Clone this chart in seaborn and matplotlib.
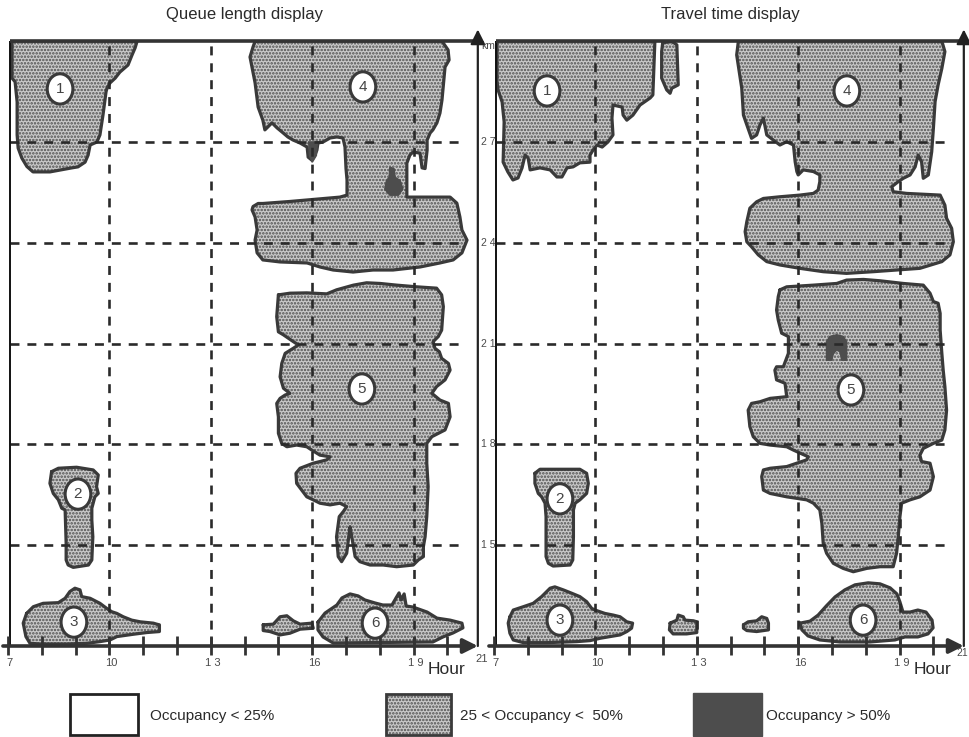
import matplotlib
matplotlib.use("Agg")
import matplotlib.pyplot as plt
from matplotlib.patches import Polygon, Ellipse, Rectangle
import seaborn as sns

# ---------------------------------------------------------------------------
# Occupancy regions, outlines given as (hour, km) vertices
# ---------------------------------------------------------------------------
queue_r1 = [(7.12, 30.0), (10.82, 30.0), (10.76, 29.8), (10.67, 29.59), (10.55, 29.29), (10.31, 29.08),
            (10.17, 28.9), (10.02, 28.76), (9.93, 28.61), (9.90, 28.49), (9.81, 27.8), (9.72, 27.21),
            (9.63, 27.0), (9.43, 26.91), (9.37, 26.61), (9.28, 26.4), (9.07, 26.26), (8.89, 26.23),
            (8.24, 26.11), (7.74, 26.11), (7.56, 26.27), (7.41, 26.52), (7.30, 26.82), (7.27, 27.21),
            (7.27, 28.19), (7.21, 28.79), (7.12, 28.9)]
queue_r2 = [(8.29, 17.19), (8.49, 17.29), (9.03, 17.32), (9.52, 17.24), (9.67, 17.09), (9.62, 16.74),
            (9.67, 16.54), (9.57, 16.44), (9.48, 16.10), (9.48, 15.75), (9.51, 15.25), (9.48, 14.56),
            (9.38, 14.41), (8.93, 14.34), (8.78, 14.41), (8.72, 14.56), (8.72, 15.06), (8.69, 16.05),
            (8.59, 16.10), (8.49, 16.35), (8.34, 16.54), (8.24, 16.84)]
queue_r3 = [(7.55, 12.97), (7.75, 13.17), (8.04, 13.27), (8.49, 13.29), (8.69, 13.42), (8.83, 13.62),
            (8.98, 13.72), (9.13, 13.67), (9.18, 13.47), (9.43, 13.42), (9.72, 13.27), (9.92, 13.12),
            (10.07, 13.02), (10.22, 12.97), (10.41, 12.87), (10.66, 12.77), (10.91, 12.72), (11.30, 12.68),
            (11.40, 12.65), (11.48, 12.63), (11.48, 12.43), (11.10, 12.40), (10.71, 12.35), (10.22, 12.28),
            (10.02, 12.18), (9.72, 12.13), (9.33, 12.08), (8.74, 12.06), (7.95, 12.06), (7.65, 12.08),
            (7.53, 12.28), (7.45, 12.68)]
queue_r4 = [(14.31, 30.0), (19.84, 30.0), (20.02, 29.74), (20.05, 29.44), (19.93, 29.23), (19.84, 28.25),
            (19.78, 27.86), (19.69, 27.57), (19.57, 27.36), (19.49, 27.27), (19.40, 27.06), (19.40, 26.76),
            (19.34, 26.21), (19.25, 26.23), (19.19, 26.67), (18.98, 26.70), (18.89, 26.61), (18.80, 26.37),
            (18.80, 25.48), (18.80, 25.36), (20.08, 25.36), (20.28, 25.18), (20.37, 24.77), (20.43, 24.38),
            (20.58, 24.08), (20.43, 23.70), (20.17, 23.49), (19.78, 23.40), (19.19, 23.28), (18.39, 23.19),
            (17.80, 23.19), (17.21, 23.13), (16.62, 23.19), (16.23, 23.28), (15.85, 23.40), (15.05, 23.43),
            (14.54, 23.49), (14.37, 23.70), (14.31, 24.08), (14.37, 24.38), (14.31, 24.77), (14.22, 24.98),
            (14.25, 25.08), (14.40, 25.17), (14.54, 25.17), (15.34, 25.23), (16.14, 25.30), (16.82, 25.36),
            (17.03, 25.42), (17.03, 25.87), (17.00, 26.21), (16.97, 26.85), (16.91, 27.12), (16.73, 27.15),
            (16.53, 27.12), (16.32, 27.00), (16.17, 26.97), (16.14, 26.76), (16.08, 26.61), (15.99, 26.46),
            (15.88, 26.55), (15.85, 26.85), (15.64, 26.97), (15.43, 27.06), (15.28, 27.15), (15.14, 27.27),
            (14.96, 27.42), (14.81, 27.57), (14.60, 27.36), (14.54, 27.65), (14.40, 28.04), (14.31, 28.76),
            (14.16, 29.53), (14.25, 29.83)]
queue_r5 = [(15.00, 22.45), (15.34, 22.50), (15.84, 22.51), (16.43, 22.48), (16.72, 22.60), (17.22, 22.74),
            (17.61, 22.81), (18.01, 22.79), (18.50, 22.74), (19.09, 22.69), (19.68, 22.65), (19.83, 22.45),
            (19.88, 22.10), (19.83, 21.40), (19.73, 21.21), (19.58, 21.06), (19.63, 20.86), (19.76, 20.76),
            (19.83, 20.56), (20.03, 20.41), (20.08, 20.21), (19.93, 19.92), (19.68, 19.72), (19.54, 19.52),
            (19.78, 19.32), (20.03, 19.22), (20.08, 18.82), (19.93, 18.43), (19.54, 18.23), (19.39, 18.03),
            (19.39, 17.44), (19.43, 16.74), (19.39, 15.85), (19.34, 15.25), (19.29, 14.96), (19.29, 14.66),
            (19.14, 14.56), (18.99, 14.41), (18.50, 14.36), (18.10, 14.41), (17.71, 14.41), (17.41, 14.51),
            (17.27, 14.66), (17.17, 15.25), (17.12, 15.55), (17.02, 14.76), (16.87, 14.51), (16.77, 14.66),
            (16.72, 15.25), (16.80, 15.85), (16.92, 16.00), (17.02, 16.15), (16.82, 16.25), (16.53, 16.20),
            (16.23, 16.25), (16.03, 16.35), (15.84, 16.44), (15.69, 16.64), (15.54, 16.84), (15.52, 17.14),
            (15.64, 17.29), (16.03, 17.44), (16.43, 17.54), (16.53, 17.63), (16.23, 17.68), (15.99, 17.83),
            (15.84, 17.93), (15.54, 17.98), (15.25, 17.93), (15.10, 18.03), (15.00, 18.33), (15.00, 18.82),
            (14.95, 19.22), (15.05, 19.37), (15.20, 19.47), (15.34, 19.52), (15.15, 19.67), (15.05, 20.01),
            (15.10, 20.41), (15.20, 20.71), (15.44, 20.86), (15.59, 20.96), (15.44, 21.06), (15.15, 21.26),
            (15.00, 21.35), (14.95, 21.80)]
queue_r6 = [(16.17, 12.71), (16.38, 12.98), (16.73, 13.22), (16.88, 13.43), (17.12, 13.55), (17.36, 13.49),
            (17.56, 13.37), (17.86, 13.28), (18.09, 13.22), (18.36, 13.22), (18.48, 13.43), (18.57, 13.58),
            (18.63, 13.37), (18.72, 13.55), (18.78, 13.19), (18.98, 13.16), (19.40, 13.01), (19.69, 12.83),
            (20.08, 12.77), (20.43, 12.68), (20.46, 12.54), (20.17, 12.39), (19.87, 12.27), (19.57, 12.12),
            (16.62, 12.09), (16.32, 12.27), (16.17, 12.48)]
queue_r7 = [(14.55, 12.63), (14.85, 12.65), (15.05, 12.87), (15.25, 12.90), (15.44, 12.75), (15.64, 12.65),
            (15.99, 12.68), (16.03, 12.53), (15.64, 12.50), (15.34, 12.38), (15.05, 12.33), (14.75, 12.43),
            (14.55, 12.46)]
queue_high1 = [(18.30, 26.25), (18.42, 26.20), (18.45, 25.95), (18.60, 25.85), (18.68, 25.60), (18.55, 25.42),
               (18.30, 25.42), (18.15, 25.60), (18.20, 25.85), (18.28, 25.95)]
queue_high2 = [(15.90, 27.00), (16.15, 27.00), (16.12, 26.60), (16.00, 26.40), (15.92, 26.60)]

travel_r1 = [(7.09, 30.0), (11.76, 30.0), (11.70, 28.40), (11.62, 28.31), (11.32, 28.10), (11.11, 27.80),
             (10.93, 27.65), (10.82, 27.80), (10.79, 28.04), (10.52, 28.10), (10.49, 27.71), (10.52, 27.21),
             (10.37, 27.0), (10.20, 26.85), (10.05, 26.91), (9.93, 26.76), (9.84, 26.61), (9.84, 26.40),
             (9.54, 26.38), (9.34, 26.26), (9.16, 26.23), (9.01, 25.96), (8.86, 25.96), (8.66, 26.17),
             (8.36, 26.23), (8.07, 26.17), (8.01, 26.52), (7.92, 26.61), (7.83, 26.23), (7.71, 25.93),
             (7.56, 25.87), (7.41, 26.11), (7.27, 26.40), (7.30, 27.60), (7.24, 28.19), (7.12, 28.55),
             (7.09, 28.79)]
travel_r1b = [(11.99, 29.95), (12.26, 30.0), (12.41, 29.89), (12.45, 28.70), (12.26, 28.60), (12.21, 28.45),
              (12.11, 28.55), (11.96, 28.90), (11.96, 29.69)]
travel_r2 = [(8.21, 17.14), (8.36, 17.26), (9.54, 17.26), (9.74, 17.14), (9.79, 16.84), (9.74, 16.54),
             (9.54, 16.35), (9.40, 16.25), (9.35, 16.05), (9.35, 15.25), (9.33, 14.56), (9.25, 14.41),
             (8.75, 14.38), (8.61, 14.46), (8.54, 14.66), (8.54, 15.85), (8.51, 16.25), (8.41, 16.44),
             (8.31, 16.54), (8.21, 16.84)]
travel_r3 = [(7.47, 12.87), (7.57, 13.07), (7.87, 13.17), (8.16, 13.27), (8.41, 13.47), (8.66, 13.72),
             (8.80, 13.76), (9.05, 13.67), (9.30, 13.57), (9.54, 13.47), (9.74, 13.32), (9.89, 13.12),
             (9.99, 13.07), (10.28, 12.97), (10.53, 12.92), (10.73, 12.87), (10.93, 12.72), (11.10, 12.68),
             (11.07, 12.53), (10.93, 12.43), (10.73, 12.33), (10.43, 12.28), (10.14, 12.23), (9.84, 12.16),
             (9.45, 12.13), (8.56, 12.10), (7.87, 12.10), (7.57, 12.18), (7.47, 12.38), (7.42, 12.68)]
travel_r4 = [(14.23, 30.0), (20.25, 30.0), (20.34, 29.69), (20.25, 29.19), (20.14, 28.70), (20.05, 28.20),
             (20.00, 27.41), (19.95, 26.71), (19.85, 26.02), (19.70, 25.92), (19.65, 26.41), (19.55, 26.61),
             (19.46, 26.26), (19.31, 26.02), (19.11, 25.92), (18.96, 25.82), (18.77, 25.67), (18.81, 25.52),
             (19.21, 25.47), (20.20, 25.42), (20.34, 25.12), (20.39, 24.73), (20.54, 24.43), (20.59, 24.03),
             (20.49, 23.64), (20.25, 23.44), (19.60, 23.24), (18.91, 23.19), (18.22, 23.14), (17.43, 23.09),
             (16.74, 23.14), (16.05, 23.24), (15.46, 23.34), (15.07, 23.44), (14.82, 23.64), (14.62, 23.88),
             (14.48, 24.03), (14.43, 24.33), (14.48, 24.63), (14.57, 25.03), (14.77, 25.22), (14.97, 25.32),
             (15.46, 25.37), (16.05, 25.42), (16.45, 25.47), (16.59, 25.57), (16.64, 25.82), (16.64, 26.02),
             (16.45, 26.12), (16.15, 26.17), (16.00, 26.02), (15.96, 26.12), (15.91, 26.41), (15.86, 26.91),
             (15.66, 27.01), (15.46, 26.91), (15.26, 27.06), (15.07, 27.21), (14.97, 27.71), (14.87, 27.51),
             (14.77, 27.21), (14.62, 27.11), (14.48, 27.51), (14.38, 27.80), (14.33, 28.60), (14.18, 29.59)]
travel_r5 = [(15.46, 22.60), (15.66, 22.69), (16.45, 22.74), (17.14, 22.79), (17.43, 22.89), (17.93, 22.91),
             (18.42, 22.87), (19.11, 22.79), (19.70, 22.74), (19.90, 22.50), (20.00, 22.25), (20.14, 22.20),
             (20.20, 21.90), (20.20, 21.40), (20.25, 20.71), (20.29, 20.21), (20.34, 19.72), (20.39, 19.02),
             (20.34, 18.43), (20.25, 18.13), (20.00, 18.03), (19.70, 17.88), (19.60, 17.68), (19.65, 17.49),
             (19.90, 17.44), (20.00, 17.04), (19.90, 16.64), (19.60, 16.44), (19.31, 16.35), (19.06, 16.25),
             (19.01, 15.85), (18.96, 15.25), (18.91, 14.76), (18.81, 14.36), (18.42, 14.36), (18.03, 14.31),
             (17.63, 14.21), (17.33, 14.31), (17.04, 14.46), (16.84, 14.76), (16.74, 15.06), (16.70, 15.65),
             (16.64, 16.05), (16.45, 16.25), (16.25, 16.35), (15.66, 16.44), (15.17, 16.54), (14.97, 16.64),
             (14.92, 17.04), (14.97, 17.24), (15.17, 17.29), (15.66, 17.34), (16.25, 17.54), (16.30, 17.63),
             (15.86, 17.83), (15.66, 17.93), (15.17, 17.98), (14.87, 18.03), (14.67, 18.23), (14.57, 18.53),
             (14.52, 19.02), (14.62, 19.22), (14.87, 19.27), (15.17, 19.37), (15.66, 19.42), (15.61, 19.82),
             (15.36, 19.92), (15.31, 20.21), (15.36, 20.31), (15.56, 20.31), (15.71, 20.71), (15.71, 21.21),
             (15.51, 21.31), (15.41, 21.70), (15.36, 22.00), (15.41, 22.40)]
travel_r6 = [(16.05, 12.68), (16.35, 12.74), (16.59, 12.92), (16.83, 13.19), (17.09, 13.46), (17.38, 13.67),
             (17.68, 13.82), (18.07, 13.88), (18.42, 13.85), (18.72, 13.73), (18.92, 13.55), (19.01, 13.31),
             (19.10, 13.01), (19.31, 13.01), (19.54, 13.07), (19.78, 13.01), (19.96, 12.77), (19.99, 12.54),
             (19.84, 12.36), (19.54, 12.27), (19.16, 12.27), (18.86, 12.18), (18.12, 12.12), (17.24, 12.12),
             (16.64, 12.18), (16.29, 12.30), (16.11, 12.48)]
travel_r7 = [(12.21, 12.68), (12.41, 12.77), (12.45, 12.92), (12.60, 12.87), (12.65, 12.77), (12.90, 12.75),
             (13.00, 12.72), (13.00, 12.40), (12.70, 12.36), (12.30, 12.36), (12.19, 12.48)]
travel_r8 = [(14.38, 12.63), (14.52, 12.72), (14.77, 12.75), (14.92, 12.87), (15.07, 12.82), (15.12, 12.68),
             (15.12, 12.48), (14.77, 12.43), (14.48, 12.46), (14.38, 12.53)]
travel_high1 = [(16.84, 21.06), (16.94, 21.21), (17.14, 21.26), (17.33, 21.21), (17.43, 21.06), (17.43, 20.51),
                (17.29, 20.51), (17.24, 20.76), (17.14, 20.81), (17.04, 20.71), (16.99, 20.51), (16.84, 20.51)]

# numbered congestion zones
zone_names = ["1", "2", "3", "4", "5", "6"]
queue_zone_hour = [8.54, 9.07, 8.95, 17.50, 17.47, 17.86]
queue_zone_km = [28.58, 16.52, 12.71, 28.64, 19.65, 12.68]
travel_zone_hour = [8.57, 8.95, 8.95, 17.44, 17.56, 17.92]
travel_zone_km = [28.52, 16.38, 12.77, 28.52, 19.62, 12.77]

# axes
grid_hours = [10, 13, 16, 19]
grid_km = [15, 18, 21, 24, 27]
minor_hours = list(range(7, 21))
x_tick_hours = [7, 10, 13, 16, 19]
x_tick_labels = ["7", "10", "1 3", "16", "1 9"]
y_tick_km = [27, 24, 21, 18, 15]
y_tick_labels = ["2 7", "2 4", "2 1", "1 8", "1 5"]

panel_titles = ["Queue length display", "Travel time display"]
legend_labels = ["Occupancy < 25%", "25 < Occupancy <  50%", "Occupancy > 50%"]

panels = [
    dict(mid=[queue_r1, queue_r2, queue_r3, queue_r4, queue_r5, queue_r6, queue_r7],
         high=[queue_high1, queue_high2], zh=queue_zone_hour, zk=queue_zone_km),
    dict(mid=[travel_r1, travel_r1b, travel_r2, travel_r3, travel_r4, travel_r5, travel_r6,
              travel_r7, travel_r8],
         high=[travel_high1], zh=travel_zone_hour, zk=travel_zone_km),
]

# ---------------------------------------------------------------------------
sns.set_theme(style="white")
plt.rcParams["font.family"] = ["Liberation Sans", "DejaVu Sans"]
plt.rcParams["hatch.linewidth"] = 1.2

MID_FACE = "#c9c9c9"
DOT = "#4f4f4f"
EDGE = "#3a3a3a"
HIGH = "#4d4d4d"
INK = "#2a2a2a"
TICK_INK = "#4a4a4a"
DASH = (0, (3.4, 3.0))

W, H = 969, 737
fig = plt.figure(figsize=(W / 100, H / 100), dpi=100)
fig.patch.set_facecolor("white")

x_left_axis = 7.07
x_right_axis = 20.9


def draw_region(ax, pts):
    ax.add_patch(Polygon(pts, closed=True, facecolor=MID_FACE, edgecolor=DOT,
                         hatch=".....", linewidth=0, zorder=2))
    xs = [p[0] for p in pts] + [pts[0][0]]
    ys = [p[1] for p in pts] + [pts[0][1]]
    sns.lineplot(x=xs, y=ys, sort=False, estimator=None, color=EDGE, linewidth=2.3,
                 ax=ax, zorder=3, solid_joinstyle="round")


for i, spec in enumerate(panels):
    left_px = 8 if i == 0 else 494
    ax = fig.add_axes([left_px / W, 1 - 646 / H, 14 * 33.8 / W, 18 * 33.6 / H])
    ax.set_axis_off()

    for pts in spec["mid"]:
        draw_region(ax, pts)
    for pts in spec["high"]:
        ax.add_patch(Polygon(pts, closed=True, facecolor=HIGH, edgecolor=HIGH,
                             linewidth=1.2, zorder=4))

    # numbered zones
    for name, h, k in zip(zone_names, spec["zh"], spec["zk"]):
        ax.add_patch(Ellipse((h, k), 0.76, 0.90, facecolor="white", edgecolor=EDGE,
                             linewidth=2.2, zorder=5))
        ax.text(h, k, name, ha="center", va="center", fontsize=11, color="#444", zorder=6)

    # dashed reference grid
    ax.vlines(grid_hours, 12, 30, colors=INK, linewidth=1.9, linestyles=[DASH], zorder=4)
    ax.hlines(grid_km, x_left_axis, 20.5, colors=INK, linewidth=1.9, linestyles=[DASH], zorder=4)

    # frame: left line, top bar, axes arrows
    ax.plot([x_left_axis, x_left_axis], [12, 30], color="#111", linewidth=1.4, zorder=6,
            solid_capstyle="butt")
    ax.plot([x_left_axis, x_right_axis], [30, 30], color="#333", linewidth=2.6, zorder=6,
            clip_on=False, solid_capstyle="butt")
    ax.annotate("", xy=(x_right_axis, 30.35), xytext=(x_right_axis, 12),
                arrowprops=dict(arrowstyle="-|>", mutation_scale=22, linewidth=1.6,
                                color="#222", shrinkA=0, shrinkB=0), zorder=7,
                annotation_clip=False)
    ax.annotate("", xy=(x_right_axis, 12), xytext=(6.85, 12),
                arrowprops=dict(arrowstyle="-|>", mutation_scale=22, linewidth=2.6,
                                color="#333", shrinkA=0, shrinkB=0), zorder=7,
                annotation_clip=False)
    for h in minor_hours:
        ax.plot([h, h], [11.74, 12.3], color="#333", linewidth=2.0, zorder=7,
                clip_on=False, solid_capstyle="butt")

    for h, lab in zip(x_tick_hours, x_tick_labels):
        ax.text(h + 0.05, 11.5, lab, ha="center", va="center", fontsize=8, color=TICK_INK)
    if i == 0:
        ax.text(21.0, 11.6, "21", ha="center", va="center", fontsize=8, color=TICK_INK)
    else:
        ax.text(20.86, 11.8, "21", ha="center", va="center", fontsize=7.5, color=TICK_INK)
    ax.text(20.52, 11.3, "Hour", ha="right", va="center", fontsize=12.5, color=INK)

    if i == 0:
        for k, lab in zip(y_tick_km, y_tick_labels):
            ax.text(21.0, k, lab, ha="left", va="center", fontsize=7.5, color=TICK_INK,
                    zorder=8)
        ax.text(21.0, 29.86, "km", ha="left", va="center", fontsize=7.5, color=TICK_INK)

    ax.set_xlim(7, 21)
    ax.set_ylim(12, 30)
    ax.set_xlabel("")
    ax.set_ylabel("")

    center_px = 245 if i == 0 else 730
    fig.text(center_px / W, 1 - 15 / H, panel_titles[i], ha="center", va="center",
             fontsize=12, color=INK)

# legend row
boxes = [(70, 694, 68, 41), (386, 694, 65, 41), (693, 693, 69, 43)]
text_x = [150, 460, 766]
styles = [dict(facecolor="white", edgecolor="#222", linewidth=2.0),
          dict(facecolor=MID_FACE, edgecolor=DOT, hatch=".....", linewidth=0),
          dict(facecolor=HIGH, edgecolor=HIGH, linewidth=1.0)]
for (bx, by, bw, bh), tx, st, lab in zip(boxes, text_x, styles, legend_labels):
    fig.patches.append(Rectangle((bx / W, 1 - (by + bh) / H), bw / W, bh / H,
                                 transform=fig.transFigure, figure=fig, **st))
    if "hatch" in st:
        fig.patches.append(Rectangle((bx / W, 1 - (by + bh) / H), bw / W, bh / H,
                                     transform=fig.transFigure, figure=fig, fill=False,
                                     edgecolor=EDGE, linewidth=2.0))
    fig.text(tx / W, 1 - 716 / H, lab, ha="left", va="center", fontsize=11, color=INK)

fig.savefig("out.png", dpi=100, facecolor="white")
